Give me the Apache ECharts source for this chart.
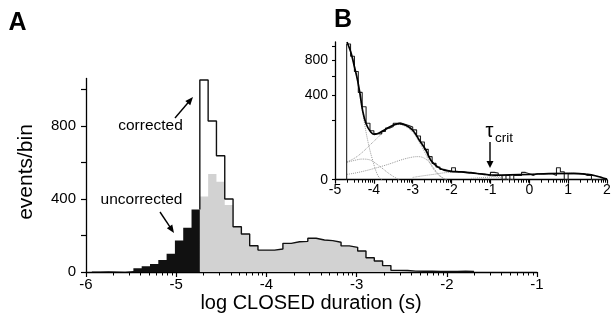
<!DOCTYPE html>
<html><head><meta charset="utf-8">
<script src="https://cdn.jsdelivr.net/npm/echarts@6/dist/echarts.min.js"></script>
<style>html,body{margin:0;padding:0;background:#fff}#c{width:614px;height:326px}</style>
</head><body><div id="c"></div>
<script>
// ===== Panel A: main histogram (log10 closed duration, s) =====
const mainXTicks = [-6, -5, -4, -3, -2, -1];
const mainYTicks = [0, 200, 400, 600, 800, 1000];
const mainYLabels = [0, 400, 800];
const mainBinStart = -4.738;       // boundary between black and grey bins
const mainBinWidth = 0.0921;
const uncorrectedShort = [3, 4, 3, 2, 5, 20, 32, 44, 66, 100, 172, 243, 343];
const correctedCounts = [1052, 827, 637, 400, 248, 208, 144, 120, 120, 126, 157, 166, 168, 185, 175, 172, 163, 143, 135, 115, 78, 60, 35, 9, 8, 5, 4, 4, 3, 3, 3, 5, 3];
const uncorrectedCounts = [413, 537, 495, 367, 248, 208, 144, 120, 120, 126, 157, 166, 168, 185, 175, 172, 163, 143, 135, 115, 78, 60, 35, 9, 8, 5, 4, 4, 3, 3, 3, 5, 3];

// ===== Panel B: inset (sqrt y scale) =====
const insetXTicks = [-5, -4, -3, -2, -1, 0, 1, 2];
const insetYTicks = [0, 200, 400, 600, 800, 1000];
const insetYLabels = [0, 400, 800];
const insetYMax = 1070;
const insetBinStart = -4.7;
const insetBinWidth = 0.1;
const insetCounts = [1040, 860, 660, 430, 300, 180, 135, 120, 118, 132, 150, 160, 180, 182, 174, 166, 156, 140, 108, 80, 52, 30, 15, 9, 6, 5, 4, 8, 3.5, 3.5, 3, 3, 2.5, 2, 2, 1.5, 1, 3, 2.5, 1, 0, 1, 0, 1, 1, 3, 2, 1, 2, 2, 2, 2, 2, 1, 8, 3.5, 0, 2, 2, 2, 2, 1, 1, 0, 0, 0, 0];
const fitCurve = [[-4.69, 1070], [-4.6, 930], [-4.55, 830], [-4.5, 720], [-4.42, 560], [-4.35, 400], [-4.29, 271], [-4.2, 177], [-4.08, 128], [-3.99, 116], [-3.82, 128], [-3.56, 161], [-3.35, 177], [-3.18, 167], [-3.0, 138], [-2.83, 88], [-2.66, 49], [-2.53, 21], [-2.36, 9.2], [-2.19, 5.1], [-2.02, 4], [-1.76, 3.4], [-1.5, 2.6], [-1.2, 1.8], [-0.9, 1.2], [-0.5, 1.3], [0, 1.6], [0.5, 2.1], [1.15, 2.3], [1.5, 1.6], [1.7, 0.9], [1.85, 0.3], [2.0, 0.02]];
const compFast = [[-4.69, 1070], [-4.55, 830], [-4.42, 540], [-4.29, 260], [-4.16, 88], [-4.03, 21], [-3.9, 1.1], [-3.8, 0]];
const compIntermediate = [[-4.69, 17], [-4.5, 21], [-4.3, 24], [-4.1, 22], [-3.95, 15], [-3.8, 8], [-3.65, 3], [-3.5, 0.6], [-3.35, 0]];
const compMain = [[-4.69, 18], [-4.5, 26], [-4.3, 42], [-4.1, 68], [-3.9, 100], [-3.7, 138], [-3.5, 163], [-3.35, 172], [-3.2, 162], [-3.0, 128], [-2.85, 85], [-2.7, 45], [-2.55, 15], [-2.4, 3], [-2.25, 0.3], [-2.1, 0]];
const compSlow = [[-4.69, 1.6], [-4.4, 3], [-4.0, 7], [-3.6, 14], [-3.3, 22], [-3.05, 28], [-2.87, 30], [-2.7, 26], [-2.55, 15], [-2.4, 4], [-2.27, 0.5], [-2.15, 0]];
const compTail1 = [[-3.0, 0.3], [-2.5, 1.5], [-2.0, 3], [-1.6, 2.8], [-1.2, 1.5], [-0.9, 0.5], [-0.6, 0.05], [-0.4, 0]];
const compTail2 = [[-1.5, 0.1], [-1.0, 0.4], [-0.5, 1.1], [0, 1.6], [0.5, 2.1], [1.0, 2.3], [1.4, 1.8], [1.7, 0.9], [1.85, 0.3], [2.0, 0]];

// ---- helpers ----
const FONT = 'Liberation Sans, Arial, Helvetica, sans-serif';
function logMinor(from, to) {
  const out = [];
  for (let n = from; n < to; n++) for (let k = 2; k <= 9; k++) out.push(n + Math.log10(k));
  return out;
}
function stairs(start, width, counts, tf, lead) {
  const pts = [];
  if (lead !== undefined) pts.push([start, tf(lead)]);
  counts.forEach((c, i) => pts.push([start + i * width, tf(c)]));
  pts.push([start + counts.length * width, 0]);
  return pts;
}
const id = v => v;
const sq = v => Math.sqrt(v);
const sqPts = arr => arr.map(p => [p[0], Math.sqrt(p[1])]);

const blackStart = mainBinStart - uncorrectedShort.length * mainBinWidth;
const blackData = stairs(blackStart, mainBinWidth, uncorrectedShort, id);
const greyData = stairs(mainBinStart, mainBinWidth, uncorrectedCounts, id);
const outlineData = stairs(mainBinStart, mainBinWidth, correctedCounts, id, uncorrectedShort[uncorrectedShort.length - 1]);
const insetHist = stairs(insetBinStart, insetBinWidth, insetCounts, sq, 0);

function arrow(x1, y1, x2, y2, hl, hw) {
  const a = Math.atan2(y2 - y1, x2 - x1), c = Math.cos(a), s = Math.sin(a);
  const bx = x2 - hl * c, by = y2 - hl * s, px = -s * hw / 2, py = c * hw / 2;
  return [
    { type: 'line', shape: { x1: x1, y1: y1, x2: bx + c, y2: by + s }, style: { stroke: '#000', lineWidth: 1.4 } },
    { type: 'polygon', shape: { points: [[x2, y2], [bx + px, by + py], [bx - px, by - py]] }, style: { fill: '#000' } }
  ];
}
function txt(x, y, text, size, opts) {
  return { type: 'text', x: x, y: y, style: Object.assign({ text: text, fill: '#000', font: size + 'px ' + FONT, align: 'center', verticalAlign: 'middle' }, opts || {}) };
}
const dotted = { width: 1, color: '#999', type: 'dotted' };

const axisLine = { show: true, onZero: false, lineStyle: { color: '#000', width: 1.3 } };
const chart = echarts.init(document.getElementById('c'));
chart.setOption({
  animation: false,
  textStyle: { fontFamily: FONT },
  grid: [
    { left: 86, right: 77, top: 78.5, bottom: 54 },
    { left: 335, right: 7, top: 42, bottom: 146.3 }
  ],
  xAxis: [
    { gridIndex: 0, type: 'value', position: 'bottom', min: -6, max: -1, interval: 1, axisLine: axisLine,
      axisTick: { length: 5, lineStyle: { color: '#000', width: 1.2 } }, splitLine: { show: false },
      axisLabel: { color: '#000', fontSize: 15, margin: 5, customValues: mainXTicks } },
    { gridIndex: 1, type: 'value', position: 'bottom', min: -5, max: 2, interval: 1, axisLine: axisLine,
      axisTick: { length: 4, lineStyle: { color: '#000', width: 1.2 } }, splitLine: { show: false },
      axisLabel: { color: '#000', fontSize: 14, margin: 3, customValues: insetXTicks } }
  ],
  yAxis: [
    { gridIndex: 0, type: 'value', min: 0, max: 1060, axisLine: axisLine,
      axisTick: { show: true, length: 5, customValues: mainYTicks, lineStyle: { color: '#000', width: 1.2 } },
      axisLabel: { color: '#000', fontSize: 15, margin: 10, customValues: mainYLabels }, splitLine: { show: false } },
    { gridIndex: 1, type: 'value', min: 0, max: Math.sqrt(insetYMax), axisLine: axisLine,
      axisTick: { show: true, length: 3, customValues: insetYTicks.map(sq), lineStyle: { color: '#000', width: 1.1 } },
      axisLabel: { color: '#000', fontSize: 14, margin: 7, customValues: insetYLabels.map(sq), formatter: v => String(Math.round(v * v)) },
      splitLine: { show: false } }
  ],
  series: [
    { type: 'line', xAxisIndex: 0, yAxisIndex: 0, step: 'end', symbol: 'none', data: greyData,
      lineStyle: { width: 0 }, areaStyle: { color: '#d2d2d2', opacity: 1 }, z: 2 },
    { type: 'line', xAxisIndex: 0, yAxisIndex: 0, step: 'end', symbol: 'none', data: blackData,
      lineStyle: { width: 0 }, areaStyle: { color: '#111', opacity: 1 }, z: 2 },
    { type: 'line', xAxisIndex: 0, yAxisIndex: 0, step: 'end', symbol: 'none', data: outlineData,
      lineStyle: { width: 1.4, color: '#111' }, z: 3 },
    { type: 'line', xAxisIndex: 1, yAxisIndex: 1, smooth: 0.4, symbol: 'none', data: sqPts(compFast), lineStyle: dotted, z: 2 },
    { type: 'line', xAxisIndex: 1, yAxisIndex: 1, smooth: 0.4, symbol: 'none', data: sqPts(compIntermediate), lineStyle: dotted, z: 2 },
    { type: 'line', xAxisIndex: 1, yAxisIndex: 1, smooth: 0.4, symbol: 'none', data: sqPts(compMain), lineStyle: dotted, z: 2 },
    { type: 'line', xAxisIndex: 1, yAxisIndex: 1, smooth: 0.4, symbol: 'none', data: sqPts(compSlow), lineStyle: dotted, z: 2 },
    { type: 'line', xAxisIndex: 1, yAxisIndex: 1, smooth: 0.4, symbol: 'none', data: sqPts(compTail1), lineStyle: dotted, z: 2 },
    { type: 'line', xAxisIndex: 1, yAxisIndex: 1, smooth: 0.4, symbol: 'none', data: sqPts(compTail2), lineStyle: dotted, z: 2 },
    { type: 'line', xAxisIndex: 1, yAxisIndex: 1, step: 'end', symbol: 'none', data: insetHist, lineStyle: { width: 1.1, color: '#222' }, z: 3 },
    { type: 'line', xAxisIndex: 1, yAxisIndex: 1, smooth: 0.4, symbol: 'none', data: sqPts(fitCurve), lineStyle: { width: 1.7, color: '#000' }, z: 4 }
  ]
});

// annotations and log-spaced minor ticks (ticks placed through the axes' own scales)
function minorTickEls(finder, values, len) {
  return values.map(v => {
    const p = chart.convertToPixel(finder, [v, 0]);
    const x = Math.round(p[0]) + 0.5, y = p[1];
    return { type: 'line', silent: true, z: 100, shape: { x1: x, y1: y, x2: x, y2: y + len }, style: { stroke: '#000', lineWidth: 1 } };
  });
}
chart.setOption({
  graphic: [].concat(
    [
      txt(17.5, 23.5, 'A', 25, { font: 'bold 25px ' + FONT }),
      txt(343, 20, 'B', 25, { font: 'bold 25px ' + FONT }),
      Object.assign(txt(26, 172, 'events/bin', 21), { rotation: Math.PI / 2 }),
      txt(311, 303, 'log CLOSED duration (s)', 20),
      txt(150.5, 126, 'corrected', 15.5),
      txt(141.5, 200, 'uncorrected', 15.5),
      txt(489.5, 131, 'τ', 20),
      txt(495, 138, 'crit', 13.5, { align: 'left' })
    ],
    arrow(175, 118, 193, 97, 8, 6.5),
    arrow(160, 212, 174, 233, 8, 6.5),
    arrow(490, 142, 490, 168, 7, 7),
    minorTickEls({ xAxisIndex: 0, yAxisIndex: 0 }, logMinor(-6, -1), 3.5),
    minorTickEls({ xAxisIndex: 1, yAxisIndex: 1 }, logMinor(-5, 2), 3)
  )
});
</script></body></html>
